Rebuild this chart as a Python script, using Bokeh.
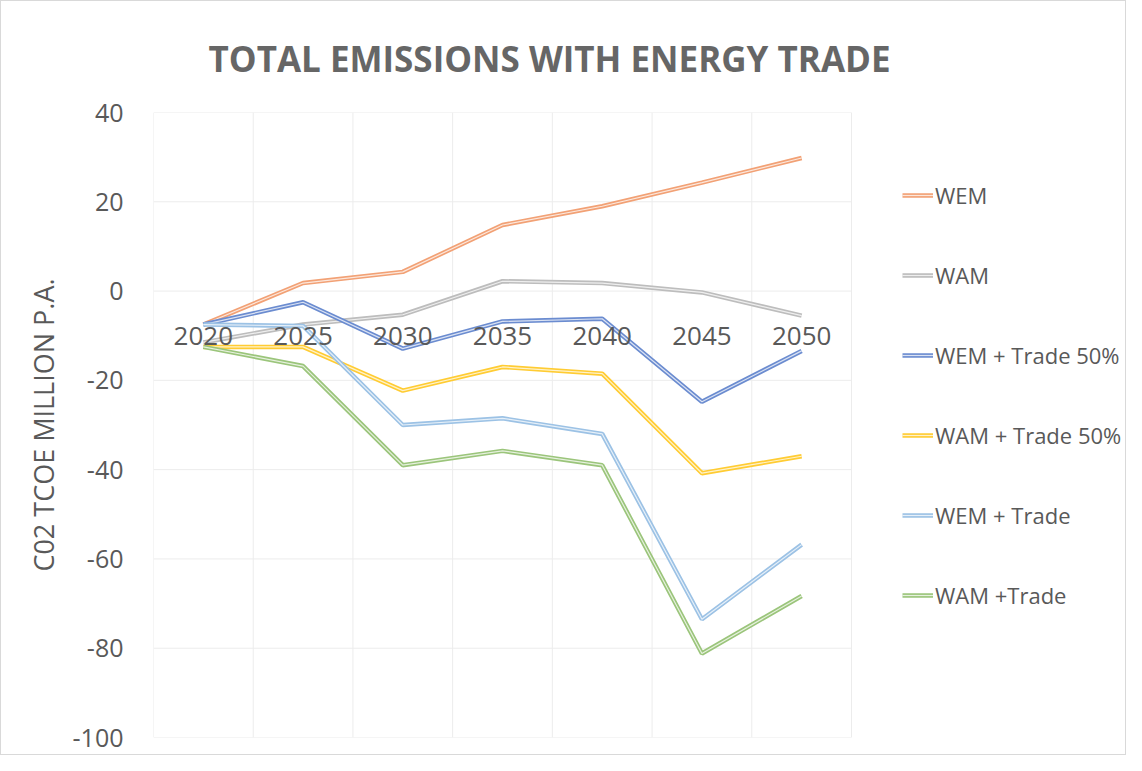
from bokeh.plotting import figure
from bokeh.models import FixedTicker, Legend, LegendItem, PrintfTickFormatter
from bokeh.core.properties import value
from bokeh.embed import file_html
from bokeh.resources import INLINE

# ---- data ----
years = ["2020", "2025", "2030", "2035", "2040", "2045", "2050"]
wem = [-7.5, 1.8, 4.3, 14.8, 19.0, 24.3, 29.8]
wam = [-11.5, -7.5, -5.3, 2.2, 1.8, -0.3, -5.5]
wem_trade50 = [-7.5, -2.5, -12.9, -6.8, -6.2, -24.8, -13.4]
wam_trade50 = [-12.5, -12.5, -22.3, -17.0, -18.5, -40.8, -37.0]
wem_trade = [-7.5, -7.8, -30.0, -28.5, -32.0, -73.5, -56.8]
wam_trade = [-12.5, -16.8, -39.0, -35.8, -39.0, -81.2, -68.3]
y_ticks = [-100, -80, -60, -40, -20, 0, 20, 40]

series = [
    ("WEM", wem, "#F2A175"),
    ("WAM", wam, "#BDBDBD"),
    ("WEM + Trade 50%", wem_trade50, "#6B8CD0"),
    ("WAM + Trade 50%", wam_trade50, "#FFCC33"),
    ("WEM + Trade", wem_trade, "#9CC2E5"),
    ("WAM +Trade", wam_trade, "#9BC57B"),
]

FONT = "Open Sans"
TXT = "#595959"
GRID = "#ECECEC"

n = len(years)
xs = list(range(n))
x_lo, x_hi = -0.5, n - 0.5

W, H = 1126, 755
LEFT, RIGHT, TOP, BOTTOM = 152, 1, 111, 19
PLOT_PX = 698  # pixel width of the category area
frame_w = W - LEFT - RIGHT
x_end = x_lo + frame_w * n / PLOT_PX

p = figure(width=W, height=H, output_backend="svg", toolbar_location=None,
           x_range=(x_lo, x_end), y_range=(y_ticks[0], y_ticks[-1]),
           min_border_left=LEFT, min_border_right=RIGHT, min_border_top=TOP,
           min_border_bottom=BOTTOM)
p.styles = {"border": "1px solid #D9D9D9"}
p.background_fill_color = "white"
p.border_fill_color = "white"
p.outline_line_color = None

# title
p.title.text = "TOTAL EMISSIONS WITH ENERGY TRADE"
p.title.text_font = FONT
p.title.text_font_size = "35px"
p.title.text_font_style = "bold"
p.title.text_color = "#666666"
p.title.align = "left"
p.title.offset = 55
p.title.standoff = 62

# axes
p.xaxis.visible = False
p.yaxis.ticker = FixedTicker(ticks=y_ticks)
p.yaxis.formatter = PrintfTickFormatter(format="%d")
p.yaxis.axis_line_color = None
p.yaxis.major_tick_line_color = None
p.yaxis.minor_tick_line_color = None
p.yaxis.major_label_text_font = FONT
p.yaxis.major_label_text_font_size = "25px"
p.yaxis.major_label_text_color = TXT
p.yaxis.major_label_standoff = 24
p.yaxis.axis_label = "C02 TCOE MILLION P.A."
p.yaxis.axis_label_text_font = FONT
p.yaxis.axis_label_text_font_size = "27px"
p.yaxis.axis_label_text_font_style = "normal"
p.yaxis.axis_label_text_color = TXT
p.yaxis.axis_label_standoff = 8

# grid limited to the category area
p.xgrid.visible = False
p.ygrid.visible = False
p.segment(x0=[x_lo] * len(y_ticks), x1=[x_hi] * len(y_ticks), y0=y_ticks, y1=y_ticks,
          line_color=GRID, line_width=1)
bounds = [i - 0.5 for i in range(n + 1)]
p.segment(x0=bounds, x1=bounds, y0=[y_ticks[0]] * len(bounds), y1=[y_ticks[-1]] * len(bounds),
          line_color=GRID, line_width=1)

# lines (double-line look)
items = []
for name, vals, col in series:
    r1 = p.line(xs, vals, line_color=col, line_width=4.5)
    r2 = p.line(xs, vals, line_color="white", line_width=1.2, line_alpha=0.75)
    items.append(LegendItem(label=name, renderers=[r1, r2]))

# category labels crossing at zero
p.text(x=xs, y=[0] * n, text=years, text_font=value(FONT),
       text_font_size="26px", text_color=TXT, text_align="center",
       text_baseline="middle", y_offset=45)

legend = Legend(items=items, location=(749, 127), orientation="vertical",
                border_line_color=None, background_fill_alpha=0,
                label_text_font=FONT, label_text_font_size="22px",
                label_text_color=TXT, glyph_width=31, glyph_height=22,
                label_height=22, label_standoff=2, spacing=50, padding=0,
                margin=0)
p.add_layout(legend, "center")

open("out.html", "w").write(file_html(p, INLINE))
